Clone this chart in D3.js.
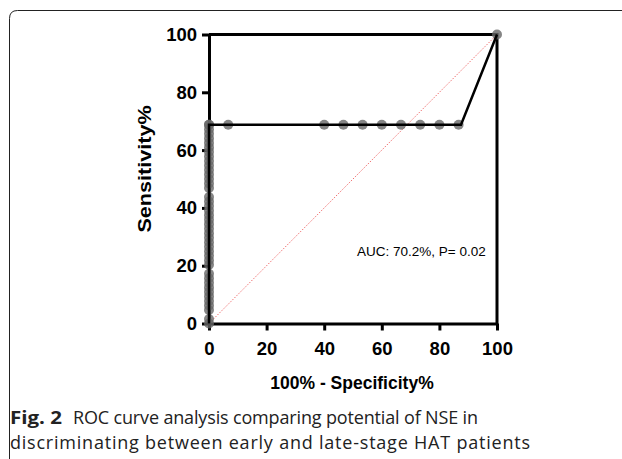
<!DOCTYPE html>
<html><head><meta charset="utf-8">
<script src="https://cdn.jsdelivr.net/npm/d3@7"></script>
<style>
html,body{margin:0;padding:0;background:#fff;}
svg{display:block;}
</style>
</head><body>
<svg id="c" width="622" height="459"></svg>
<script>
// ROC points: [100% - Specificity%, Sensitivity%]
const rocX = [0,0,0,0,0,0,0,0,0,0,0,0,0,0,0,0,0,0,0,0,0,0,0,0,0,0,0,0,0,0,0,0,0,0,0,0,0,0,0,0,0,0,0,
  6.67,40,46.67,53.33,60,66.67,73.33,80,86.67,100];
const rocY = [0,1.56,4.69,6.25,7.81,9.38,10.94,12.5,14.06,15.63,17.19,20.31,21.88,23.44,25,26.56,28.13,29.69,31.25,32.81,34.38,35.94,37.5,39.06,40.63,42.19,43.75,46.88,48.44,50,51.56,53.13,54.69,56.25,57.81,59.38,60.94,62.5,64.06,65.63,67.19,68.75,68.75,
  68.75,68.75,68.75,68.75,68.75,68.75,68.75,68.75,68.75,100];
const curveX = [0,0,87.5,100];
const curveY = [0,68.75,68.75,100];
const ticks = [0,20,40,60,80,100];
const auc = "AUC: 70.2%, P= 0.02";
const xTitle = "100% - Specificity%";
const yTitle = "Sensitivity%";
const figLabel = "Fig. 2";
const caption1 = "ROC curve analysis comparing potential of NSE in";
const caption2 = "discriminating between early and late-stage HAT patients";

const svg = d3.select("#c");
// frame border
svg.append("path")
  .attr("d","M9.5,459 L9.5,18.5 Q9.5,10.5 17.5,10.5 L630,10.5")
  .attr("fill","none").attr("stroke","#222").attr("stroke-width",1);

const x = d3.scaleLinear().domain([0,100]).range([209,497]);
const y = d3.scaleLinear().domain([0,100]).range([323.5,34.5]);
const g = svg.append("g");

// diagonal reference
g.append("line").attr("x1",x(0)).attr("y1",y(0)).attr("x2",x(100)).attr("y2",y(100))
  .attr("stroke","#f07070").attr("stroke-width",1).attr("stroke-dasharray","1.5,1.5");

// axes
const xa = g.append("g").attr("transform",`translate(0,${y(0)})`)
  .call(d3.axisBottom(x).tickValues(ticks).tickSize(7).tickSizeOuter(0));
const ya = g.append("g").attr("transform",`translate(${x(0)},0)`)
  .call(d3.axisLeft(y).tickValues(ticks).tickSize(7).tickSizeOuter(0));
[xa,ya].forEach(a=>{
  a.select(".domain").attr("stroke","#000").attr("stroke-width",3);
  a.selectAll(".tick line").attr("stroke","#000").attr("stroke-width",3);
  a.selectAll(".tick text").attr("fill","#000")
    .style("font-family","'Liberation Sans',Arial,sans-serif")
    .style("font-weight","bold").style("font-size","18.5px");
});
xa.selectAll(".tick text").attr("dy","21.5px");
ya.selectAll(".tick text").attr("dx","-2px");
// top & right frame
g.append("line").attr("x1",x(0)).attr("x2",x(100)).attr("y1",y(100)).attr("y2",y(100))
  .attr("stroke","#000").attr("stroke-width",3);
g.append("line").attr("x1",x(100)).attr("x2",x(100)).attr("y1",y(100)-1.5).attr("y2",y(0)+1.5)
  .attr("stroke","#000").attr("stroke-width",3);

// points
g.selectAll("circle.p").data(rocX.map((d,i)=>[d,rocY[i]])).enter().append("circle")
  .attr("cx",d=>x(d[0])).attr("cy",d=>y(d[1])).attr("r",5)
  .attr("fill","#666").attr("fill-opacity",0.8);

// curve
g.append("path").datum(curveX.map((d,i)=>[d,curveY[i]]))
  .attr("d",d3.line().x(d=>x(d[0])).y(d=>y(d[1])))
  .attr("fill","none").attr("stroke","#000").attr("stroke-width",2.5).attr("stroke-linejoin","miter");

// labels
svg.append("text").attr("x",352).attr("y",389).attr("text-anchor","middle")
  .style("font-family","'Liberation Sans',Arial,sans-serif").style("font-weight","bold").style("font-size","17.5px")
  .text(xTitle);
svg.append("text").attr("transform","translate(151,169) rotate(-90) scale(1.2,1)").attr("text-anchor","middle")
  .style("font-family","'Liberation Sans',Arial,sans-serif").style("font-weight","bold").style("font-size","18px")
  .text(yTitle);
svg.append("text").attr("x",357).attr("y",256)
  .style("font-family","'Liberation Sans',Arial,sans-serif").style("font-size","13.5px")
  .text(auc);

// caption
const capFont = "'Open Sans',sans-serif";
svg.append("text").attr("x",10).attr("y",424)
  .style("font-family",capFont).style("font-size","18px").style("font-weight","bold").attr("fill","#222")
  .attr("textLength",52).attr("lengthAdjust","spacingAndGlyphs").text(figLabel);
svg.append("text").attr("x",73).attr("y",424)
  .style("font-family",capFont).style("font-size","18px").attr("fill","#222")
  .attr("textLength",405).attr("lengthAdjust","spacing").text(caption1);
svg.append("text").attr("x",10).attr("y",449)
  .style("font-family",capFont).style("font-size","18px").attr("fill","#222")
  .attr("textLength",520).attr("lengthAdjust","spacing").text(caption2);
</script>
</body></html>
